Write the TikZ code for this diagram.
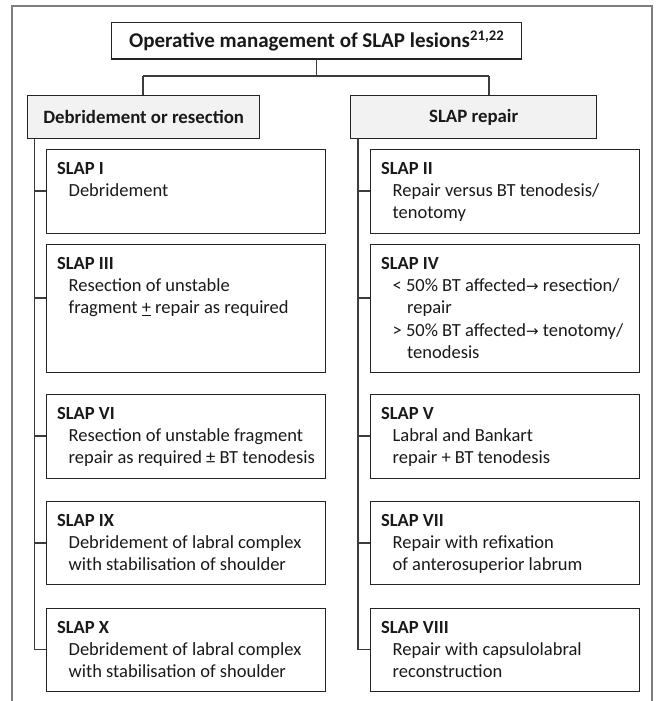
\documentclass[tikz,border=0pt]{standalone}
\usepackage{fontspec}
\setmainfont{Carlito}
\newfontfamily\arrfont{DejaVu Sans}
\definecolor{frameC}{RGB}{125,125,125}
\definecolor{boxC}{RGB}{35,35,35}
\definecolor{connC}{RGB}{60,60,60}
\definecolor{hdrC}{RGB}{242,242,243}
\definecolor{txtC}{RGB}{25,25,25}
\newcommand{\bxt}[3]{\begin{minipage}[t][#1pt][t]{#2pt}\fontsize{18.5}{22.3}\selectfont\raggedright\leftskip=10.5pt\parindent=0pt\rule{0pt}{24.5pt}#3\end{minipage}}
\newcommand{\ind}{\hspace*{11.5pt}}
\newcommand{\indd}{\hspace*{26pt}}
\newcommand{\arr}{{\arrfont\fontsize{15}{15}\selectfont →}}
\begin{document}
\begin{tikzpicture}[x=1pt,y=-1pt,
  outerframe/.style={draw=frameC, line width=1.4pt},
  slapbox/.style={draw=boxC, line width=1.3pt, inner sep=0pt, anchor=north west, text=txtC},
  hdrbox/.style={draw=boxC, line width=1.3pt, fill=hdrC, inner sep=0pt, anchor=north west, minimum height=43pt, text=txtC, font=\fontsize{18.8}{22}\selectfont\bfseries},
  conn/.style={draw=connC, line width=1.2pt}]
\useasboundingbox (0,0) rectangle (660,701);
\draw[outerframe] (12,701) -- (12,6) -- (652,6) -- (652,701);

\node[slapbox, minimum width=410pt, minimum height=36.5pt, font=\fontsize{21}{24}\selectfont\bfseries] (title) at (111,22) {Operative management of SLAP lesions\textsuperscript{21,22}};

\node[hdrbox, minimum width=232pt] (lh) at (27,95) {Debridement or resection};
\node[hdrbox, minimum width=246pt] (rh) at (350,95) {SLAP repair};

% left column
\node[slapbox] (s1) at (46,149) {\bxt{83.5}{279}{\textbf{SLAP I}\\\ind Debridement}};
\node[slapbox] (s3) at (46,244) {\bxt{128}{279}{\textbf{SLAP III}\\\ind Resection of unstable\\\ind fragment \underline{+} repair as required}};
\node[slapbox] (s6) at (46,394) {\bxt{84}{279}{\textbf{SLAP VI}\\\ind Resection of unstable fragment\\\ind repair as required ± BT tenodesis}};
\node[slapbox] (s9) at (46,501) {\bxt{83}{279}{\textbf{SLAP IX}\\\ind Debridement of labral complex\\\ind with stabilisation of shoulder}};
\node[slapbox] (s10) at (46,608) {\bxt{83}{279}{\textbf{SLAP X}\\\ind Debridement of labral complex\\\ind with stabilisation of shoulder}};

% right column
\node[slapbox] (s2) at (370,149) {\bxt{83.5}{269}{\textbf{SLAP II}\\\ind Repair versus BT tenodesis/\\\ind tenotomy}};
\node[slapbox] (s4) at (370,244) {\bxt{128}{269}{\textbf{SLAP IV}\\\ind < 50\% BT affected\arr\ resection/\\\indd repair\\\ind > 50\% BT affected\arr\ tenotomy/\\\indd tenodesis}};
\node[slapbox] (s5) at (370,394) {\bxt{84}{269}{\textbf{SLAP V}\\\ind Labral and Bankart\\\ind repair + BT tenodesis}};
\node[slapbox] (s7) at (370,501) {\bxt{83}{269}{\textbf{SLAP VII}\\\ind Repair with refixation\\\ind of anterosuperior labrum}};
\node[slapbox] (s8) at (370,608) {\bxt{83}{269}{\textbf{SLAP VIII}\\\ind Repair with capsulolabral\\\ind reconstruction}};

% top connectors
\coordinate (jl) at (143,76);
\coordinate (jr) at (489,76);
\draw[conn] (title.south) -- (title.south |- jl);
\draw[conn] (jl) -- (jr);
\draw[conn] (jl) -- (jl |- lh.north);
\draw[conn] (jr) -- (jr |- rh.north);

% attachment points
\coordinate (c1) at ([yshift=-42pt]s1.north west);
\coordinate (c3) at ([yshift=-54pt]s3.north west);
\coordinate (c6) at ([yshift=-42pt]s6.north west);
\coordinate (c9) at ([yshift=-42pt]s9.north west);
\coordinate (c10) at ([yshift=-41.5pt]s10.north west);
\coordinate (c2) at ([yshift=-42pt]s2.north west);
\coordinate (c4) at ([yshift=-54pt]s4.north west);
\coordinate (c5) at ([yshift=-42pt]s5.north west);
\coordinate (c7) at ([yshift=-42pt]s7.north west);
\coordinate (c8) at ([yshift=-41.5pt]s8.north west);

% left tree
\coordinate (lv) at ([xshift=7.5pt]lh.south west);
\draw[conn] (lv) |- (c10);
\foreach \c in {c1,c3,c6,c9} \draw[conn] (lv |- \c) -- (\c);

% right tree
\coordinate (rv) at ([xshift=8pt]rh.south west);
\draw[conn] (rv) |- (c8);
\foreach \c in {c2,c4,c5,c7} \draw[conn] (rv |- \c) -- (\c);
\end{tikzpicture}
\end{document}
